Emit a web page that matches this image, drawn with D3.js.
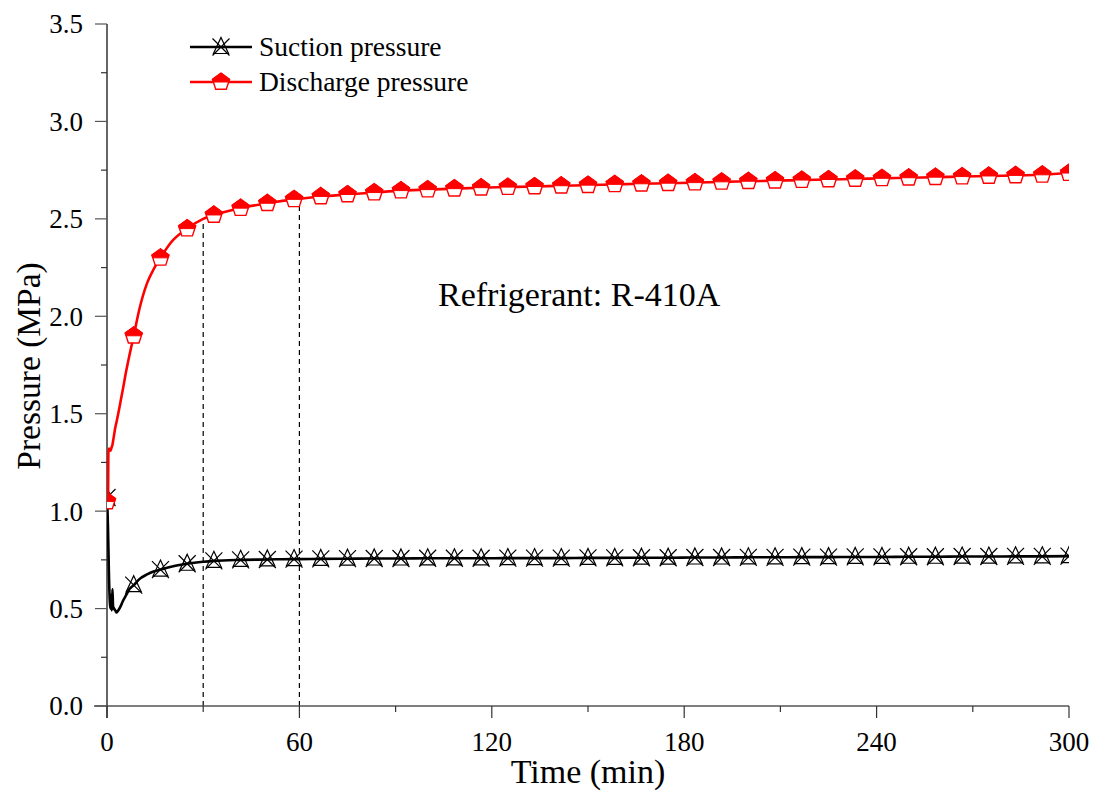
<!DOCTYPE html>
<html>
<head>
<meta charset="utf-8">
<script src="https://cdn.jsdelivr.net/npm/d3@7"></script>
<style>
  html, body { margin: 0; padding: 0; background: #fff; }
  svg { display: block; }
  text { font-family: "Liberation Serif", "Times New Roman", serif; fill: #000; }
</style>
</head>
<body>
<svg id="chart" width="1101" height="792"></svg>
<script>
// Time in minutes for each logged sample
const timeMin = [
  0, 0.3, 0.45, 0.6, 0.9, 1.1, 1.3, 1.5, 1.7, 1.9, 2.2, 2.6, 3.0, 3.5, 4.2, 5.0, 6.0, 7.0,
  8.33, 10, 12.5, 14.5, 16.67, 20, 25, 30, 33.33, 41.67, 50, 58.33, 60, 66.67, 75, 83.33,
  91.67, 100, 108.33, 116.67, 125, 133.33, 141.67, 150, 158.33, 166.67, 175, 183.33, 191.67,
  200, 208.33, 216.67, 225, 233.33, 241.67, 250, 258.33, 266.67, 275, 283.33, 291.67, 300
];

// Suction pressure, MPa
const suctionMPa = [
  1.07, 0.92, 0.80, 0.68, 0.53, 0.50, 0.57, 0.49, 0.60, 0.51, 0.50, 0.49, 0.48, 0.49, 0.51, 0.54, 0.57, 0.60,
  0.62, 0.65, 0.675, 0.69, 0.70, 0.715, 0.73, 0.74, 0.745, 0.75, 0.752, 0.754, 0.754, 0.755, 0.756, 0.757,
  0.757, 0.758, 0.758, 0.758, 0.759, 0.759, 0.759, 0.760, 0.760, 0.761, 0.761, 0.762, 0.762,
  0.763, 0.763, 0.764, 0.764, 0.765, 0.765, 0.766, 0.766, 0.767, 0.767, 0.768, 0.768, 0.769
];

// Discharge pressure, MPa
const dischargeMPa = [
  1.05, 1.05, 1.32, 1.32, 1.32, 1.31, 1.32, 1.33, 1.34, 1.36, 1.39, 1.43, 1.46, 1.50, 1.56, 1.63, 1.72, 1.80,
  1.90, 2.03, 2.17, 2.24, 2.30, 2.38, 2.45, 2.50, 2.52, 2.555, 2.58, 2.60, 2.603, 2.615, 2.625, 2.635,
  2.645, 2.65, 2.655, 2.66, 2.663, 2.666, 2.67, 2.673, 2.677, 2.68, 2.683, 2.686, 2.69,
  2.693, 2.696, 2.699, 2.702, 2.705, 2.708, 2.711, 2.714, 2.717, 2.72, 2.723, 2.726, 2.735
];

// Samples that carry a symbol (every 500 s)
const markerTimes = [
  0, 8.33, 16.67, 25, 33.33, 41.67, 50, 58.33, 66.67, 75, 83.33, 91.67, 100, 108.33, 116.67,
  125, 133.33, 141.67, 150, 158.33, 166.67, 175, 183.33, 191.67, 200, 208.33, 216.67, 225,
  233.33, 241.67, 250, 258.33, 266.67, 275, 283.33, 291.67, 300
];

// Reference times marked with dashed drop lines
const guideTimes = [30, 60];

const xTicks = [0, 60, 120, 180, 240, 300];
const xMinorTicks = [30, 90, 150, 210, 270];
const yTicks = [0.0, 0.5, 1.0, 1.5, 2.0, 2.5, 3.0, 3.5];
const yMinorTicks = [0.25, 0.75, 1.25, 1.75, 2.25, 2.75, 3.25];

const seriesNames = ["Suction pressure", "Discharge pressure"];
const annotation = "Refrigerant: R-410A";

(function () {
const svg = d3.select("#chart");
const plotL = 107, plotR = 1069, plotT = 24, plotB = 706;

const x = d3.scaleLinear().domain([0, 300]).range([plotL, plotR]);
const y = d3.scaleLinear().domain([0, 3.5]).range([plotB, plotT]);

// Data layer is clipped to the frame's left and right edges
svg.append("defs").append("clipPath").attr("id", "plot-clip")
  .append("rect").attr("x", plotL).attr("y", 0).attr("width", plotR - plotL).attr("height", plotB);

const rows = timeMin.map((t, i) => ({ t, s: suctionMPa[i], d: dischargeMPa[i] }));
const markerRows = rows.filter(r => markerTimes.some(m => Math.abs(m - r.t) < 1e-6));

// Dashed drop lines from the time axis to the discharge curve
const bis = d3.bisector(r => r.t).left;
function dischargeAt(t) {
  const i = bis(rows, t);
  if (rows[i].t === t) return rows[i].d;
  const a = rows[i - 1], b = rows[i];
  return a.d + (b.d - a.d) * (t - a.t) / (b.t - a.t);
}
svg.append("g").selectAll("line").data(guideTimes).join("line")
  .attr("x1", d => x(d)).attr("x2", d => x(d))
  .attr("y1", y(0)).attr("y2", d => y(dischargeAt(d)))
  .attr("stroke", "#000").attr("stroke-width", 1.2)
  .attr("stroke-dasharray", "5,4");

// Axes
const gx = svg.append("g").attr("transform", `translate(0,${plotB})`);
gx.append("line").attr("x1", 94).attr("x2", plotR).attr("y1", 0).attr("y2", 0)
  .attr("stroke", "#555").attr("stroke-width", 1.5);
gx.selectAll("line.maj").data(xTicks).join("line").attr("class", "maj")
  .attr("x1", d => x(d)).attr("x2", d => x(d)).attr("y1", 0).attr("y2", 12)
  .attr("stroke", "#333").attr("stroke-width", 1.2);
gx.selectAll("line.min").data(xMinorTicks).join("line").attr("class", "min")
  .attr("x1", d => x(d)).attr("x2", d => x(d)).attr("y1", 0).attr("y2", 6)
  .attr("stroke", "#333").attr("stroke-width", 1.2);
gx.selectAll("text").data(xTicks).join("text")
  .attr("x", d => x(d)).attr("y", 45).attr("text-anchor", "middle")
  .attr("font-size", 27).text(d => d);

const gy = svg.append("g");
gy.append("line").attr("x1", plotL).attr("x2", plotL).attr("y1", plotT).attr("y2", plotB + 12)
  .attr("stroke", "#333").attr("stroke-width", 1.5);
gy.selectAll("line.maj").data(yTicks).join("line").attr("class", "maj")
  .attr("x1", plotL - 12).attr("x2", plotL).attr("y1", d => y(d)).attr("y2", d => y(d))
  .attr("stroke", "#555").attr("stroke-width", 1.2);
gy.selectAll("line.min").data(yMinorTicks).join("line").attr("class", "min")
  .attr("x1", plotL - 6).attr("x2", plotL).attr("y1", d => y(d)).attr("y2", d => y(d))
  .attr("stroke", "#333").attr("stroke-width", 1.2);
gy.selectAll("text").data(yTicks).join("text")
  .attr("x", 83).attr("y", d => y(d)).attr("dy", "0.35em").attr("text-anchor", "end")
  .attr("font-size", 27).text(d => d.toFixed(1));

// Axis titles
svg.append("text").attr("x", (plotL + plotR) / 2).attr("y", 783).attr("text-anchor", "middle")
  .attr("font-size", 34).text("Time (min)");
svg.append("text").attr("transform", `translate(40,${(plotT + plotB) / 2 + 1}) rotate(-90)`)
  .attr("text-anchor", "middle").attr("font-size", 33.5).text("Pressure (MPa)");

// Symbols
const R = 9;
const pent = d3.range(5).map(k => {
  const a = -Math.PI / 2 + k * 2 * Math.PI / 5;
  return [R * Math.cos(a), R * Math.sin(a)];
});
const pentPath = "M" + pent.map(p => p.join(",")).join("L") + "Z";
// upper half of the pentagon (above its centre)
const xc = pent[1][0] + (pent[2][0] - pent[1][0]) * (0 - pent[1][1]) / (pent[2][1] - pent[1][1]);
const pentTop = `M${pent[0]}L${pent[1]}L${xc},0L${-xc},0L${pent[4]}Z`;

function drawPentagon(g) {
  g.append("path").attr("d", pentPath).attr("fill", "#fff").attr("stroke", "#ff0000").attr("stroke-width", 1.4);
  g.append("path").attr("d", pentTop).attr("fill", "#ff0000").attr("stroke", "#ff0000").attr("stroke-width", 1);
}
function drawTriX(g) {
  const s = 8.5;
  g.append("path").attr("d", `M0,${-s - 1}L${s - 1},${s - 2}L${-s + 1},${s - 2}Z`)
    .attr("fill", "none").attr("stroke", "#000").attr("stroke-width", 1.2);
  g.append("path").attr("d", `M${-s},${-s}L${s},${s}M${s},${-s}L${-s},${s}`)
    .attr("fill", "none").attr("stroke", "#000").attr("stroke-width", 1.2);
}

const line = key => d3.line().x(r => x(r.t)).y(r => y(r[key])).curve(d3.curveMonotoneX);

const plot = svg.append("g").attr("clip-path", "url(#plot-clip)");
// suction
plot.append("path").datum(rows).attr("d", line("s"))
  .attr("fill", "none").attr("stroke", "#000").attr("stroke-width", 2.6).attr("stroke-linejoin", "round");
plot.append("g").selectAll("g").data(markerRows).join("g")
  .attr("transform", r => `translate(${x(r.t)},${y(r.s)})`).each(function () { drawTriX(d3.select(this)); });
// discharge
plot.append("path").datum(rows).attr("d", line("d"))
  .attr("fill", "none").attr("stroke", "#ff0000").attr("stroke-width", 2.6).attr("stroke-linejoin", "round");
plot.append("g").selectAll("g").data(markerRows).join("g")
  .attr("transform", r => `translate(${x(r.t)},${y(r.d)})`).each(function () { drawPentagon(d3.select(this)); });

// Annotation
svg.append("text").attr("x", 438).attr("y", 306).attr("font-size", 34).text(annotation);

// Legend
const legend = svg.append("g");
const legY = [47, 82];
const legColors = ["#000", "#ff0000"];
seriesNames.forEach((name, i) => {
  const g = legend.append("g").attr("transform", `translate(0,${legY[i]})`);
  g.append("line").attr("x1", 190).attr("x2", 252).attr("y1", 0).attr("y2", 0)
    .attr("stroke", legColors[i]).attr("stroke-width", 2.6);
  const m = g.append("g").attr("transform", "translate(221,0)");
  if (i === 0) drawTriX(m); else drawPentagon(m);
  g.append("text").attr("x", 259).attr("y", 0).attr("dy", "0.33em").attr("font-size", 27.5).text(name);
});
})();
</script>
</body>
</html>
